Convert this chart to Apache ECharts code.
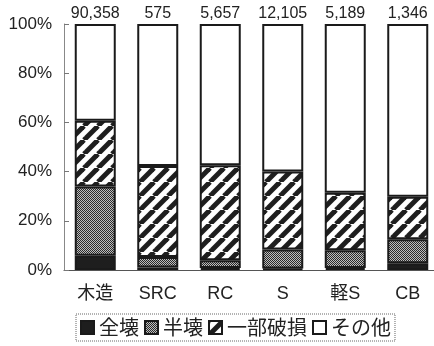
<!DOCTYPE html>
<html>
<head>
<meta charset="utf-8">
<script src="https://cdn.jsdelivr.net/npm/echarts@6/dist/echarts.min.js"></script>
<style>
  html, body { margin: 0; padding: 0; background: #fff; }
  #chart { width: 434px; height: 346px; }
</style>
</head>
<body>
<div id="chart"></div>
<script>
// Damage breakdown by building structure (share of buildings, %)
const categories = ['木造', 'SRC', 'RC', 'S', '軽S', 'CB'];
const buildingCounts = [90358, 575, 5657, 12105, 5189, 1346];
const seriesNames = ['全壊', '半壊', '一部破損', 'その他'];
const totalCollapse = [5.8, 1.0, 0.8, 0.6, 0.8, 2.7];
const halfCollapse = [28.1, 4.3, 3.2, 7.7, 7.2, 9.8];
const partialDamage = [26.8, 37.0, 38.6, 31.7, 23.4, 17.3];
const otherShare = [39.3, 57.7, 57.4, 60.0, 68.6, 70.2];
const yTicks = [0, 20, 40, 60, 80, 100];

// Fill textures
function checkerPattern() {
  const c = document.createElement('canvas');
  c.width = 4; c.height = 4;
  const g = c.getContext('2d');
  g.fillStyle = '#bdbdbd';
  g.fillRect(0, 0, 4, 4);
  g.fillStyle = '#2a2a2a';
  for (let y = 0; y < 4; y++) {
    for (let x = 0; x < 4; x++) {
      if ((x + y) % 2 === 0) g.fillRect(x, y, 1, 1);
    }
  }
  return { image: c, repeat: 'repeat' };
}
function stripePattern() {
  const p = 14;
  const c = document.createElement('canvas');
  c.width = p; c.height = p;
  const g = c.getContext('2d');
  g.fillStyle = '#fff';
  g.fillRect(0, 0, p, p);
  g.strokeStyle = '#1e1e1e';
  g.lineWidth = 5;
  for (let k = -1; k <= 1; k++) {
    g.beginPath();
    g.moveTo(k * p, p);
    g.lineTo(k * p + p, 0);
    g.stroke();
  }
  return { image: c, repeat: 'repeat' };
}

const fills = ['#1e1e1e', checkerPattern(), stripePattern(), '#ffffff'];
const values = [totalCollapse, halfCollapse, partialDamage, otherShare];

const sansFamily = "'Liberation Sans', 'Noto Sans CJK JP', sans-serif";
const cjk = "'Noto Sans CJK JP', 'Liberation Sans', sans-serif";

const chart = echarts.init(document.getElementById('chart'), null, { renderer: 'canvas' });

const series = seriesNames.map((name, i) => ({
  name: name,
  type: 'bar',
  stack: 'all',
  barWidth: 41,
  data: values[i],
  itemStyle: { color: fills[i], borderColor: '#1a1a1a', borderWidth: 2 },
  emphasis: { disabled: true },
  label: i === seriesNames.length - 1 ? {
    show: true,
    position: 'top',
    distance: 2,
    color: '#222',
    fontFamily: "'Liberation Sans', Arial, sans-serif",
    fontSize: 16,
    formatter: p => buildingCounts[p.dataIndex].toLocaleString('en-US')
  } : { show: false }
}));

chart.setOption({
  animation: false,
  backgroundColor: '#ffffff',
  grid: { left: 64, top: 24, width: 375, height: 246, outerBoundsMode: 'none', containLabel: false },
  legend: {
    left: 76,
    top: 314,
    icon: 'rect',
    itemWidth: 13,
    itemHeight: 13,
    itemGap: 5,
    padding: [3, 4, 3, 4],
    borderColor: '#666',
    borderWidth: 1,
    borderType: 'dotted',
    textStyle: { fontFamily: cjk, fontSize: 20, color: '#222', lineHeight: 21 },
    data: seriesNames
  },
  xAxis: {
    type: 'category',
    data: categories,
    axisLine: { lineStyle: { color: '#555', width: 1 } },
    axisTick: { inside: true, length: 5, lineStyle: { color: '#777' } },
    axisLabel: { margin: 15, fontFamily: sansFamily, fontSize: 18, color: '#222' }
  },
  yAxis: {
    type: 'value',
    min: yTicks[0],
    max: yTicks[yTicks.length - 1],
    interval: yTicks[1] - yTicks[0],
    axisLine: { show: true, lineStyle: { color: '#888', width: 1 } },
    axisTick: { show: true, inside: true, length: 5, lineStyle: { color: '#777' } },
    splitLine: { show: false },
    axisLabel: { margin: 12, fontFamily: sansFamily, fontSize: 17, color: '#222', formatter: '{value}%' }
  },
  series: series
});
</script>
</body>
</html>
